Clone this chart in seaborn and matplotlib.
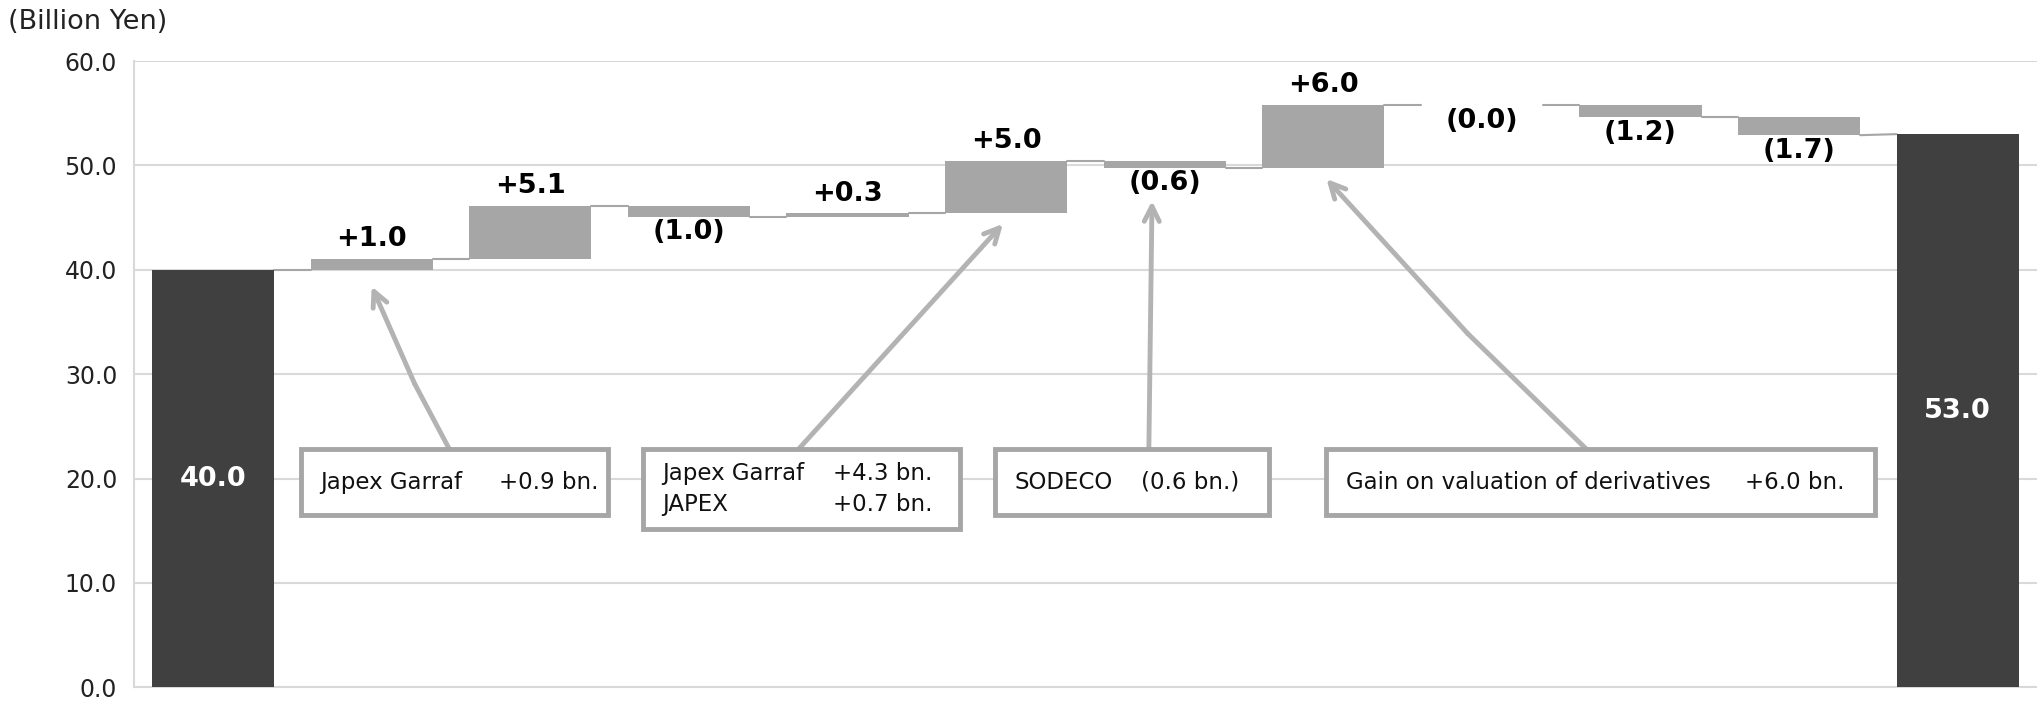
import matplotlib
matplotlib.use("Agg")
import matplotlib.pyplot as plt
import numpy as np
import seaborn as sns
from matplotlib.patches import Rectangle

# -----------------------------
# Data (Billion Yen)
# -----------------------------
steps = ["Start", "Step 1", "Step 2", "Step 3", "Step 4", "Step 5",
         "Step 6", "Step 7", "Step 8", "Step 9", "Step 10", "End"]
values = [40.0, 1.0, 5.1, -1.0, 0.3, 5.0, -0.6, 6.0, -0.0, -1.2, -1.7, 53.0]
is_total = [True] + [False] * 10 + [True]
value_labels = ["40.0", "+1.0", "+5.1", "(1.0)", "+0.3", "+5.0", "(0.6)",
                "+6.0", "(0.0)", "(1.2)", "(1.7)", "53.0"]
y_ticks = [0, 10, 20, 30, 40, 50, 60]

note_left = ["Japex Garraf", "Japex Garraf\nJAPEX", "SODECO",
             "Gain on valuation of derivatives"]
note_right = ["+0.9 bn.", "+4.3 bn.\n+0.7 bn.", "(0.6 bn.)", "+6.0 bn."]

DARK = "#404040"
GREY = "#a6a6a6"
LINE = "#b3b3b3"
GRID = "#d9d9d9"

# -----------------------------
# Waterfall geometry
# -----------------------------
bottoms, heights, ends = [], [], []
running = 0.0
for v, tot in zip(values, is_total):
    if tot:
        bottoms.append(0.0)
        heights.append(v)
        running = v
    else:
        bottoms.append(min(running, running + v))
        heights.append(abs(v))
        running = running + v
    ends.append(running)
bottoms = np.array(bottoms)
heights = np.array(heights)

sns.set_theme(style="white")
plt.rcParams["font.family"] = ["DejaVu Sans"]

fig = plt.figure(figsize=(20.37, 7.02), dpi=100)
ax = fig.add_axes([0.0657, 0.021, 0.9343, 0.892])

bw = 0.77
sns.barplot(x=steps, y=heights, bottom=bottoms, color=GREY, width=bw,
            saturation=1, linewidth=0, ax=ax, zorder=3)
for patch, tot in zip(ax.patches, is_total):
    patch.set_facecolor(DARK if tot else GREY)
    patch.set_edgecolor(DARK if tot else GREY)

# connectors
for i in range(len(values) - 1):
    nxt = values[i + 1] if is_total[i + 1] else ends[i]
    ax.plot([i + bw / 2, i + 1 - bw / 2], [ends[i], nxt],
            color=GREY, lw=1.5, zorder=2)

# value labels
for i, (v, tot, lab) in enumerate(zip(values, is_total, value_labels)):
    if tot:
        ax.text(i, v / 2, lab, ha="center", va="center", color="white",
                fontsize=19.5, fontweight="bold", zorder=5)
    elif lab.startswith("+"):
        ax.annotate(lab, (i, bottoms[i] + heights[i]), xytext=(0, 5),
                    textcoords="offset points", ha="center", va="bottom",
                    fontsize=19.5, fontweight="bold", color="black", zorder=5)
    else:
        ax.annotate(lab, (i, bottoms[i]), xytext=(0, -2),
                    textcoords="offset points", ha="center", va="top",
                    fontsize=19.5, fontweight="bold", color="black", zorder=5)

# -----------------------------
# Notes with arrows
# -----------------------------
boxes = [(0.557, 2.49, 16.5), (2.71, 4.71, 15.2), (4.93, 6.66, 16.5),
         (7.02, 10.48, 16.5)]
right_x = [1.80, 3.91, 5.85, 9.66]
box_top = 22.8
arrow_from = [(1.49, box_top), (3.69, box_top), (5.90, box_top), (8.66, box_top)]
arrow_bend = [(1.27, 29.1), None, None, (7.91, 33.9)]
arrow_tip = [(1.0, 38.4), (4.98, 44.4), (5.92, 46.6), (7.02, 48.7)]

for k in range(len(note_left)):
    x0, x1, y0 = boxes[k]
    ax.add_patch(Rectangle((x0, y0), x1 - x0, box_top - y0, facecolor="white",
                           edgecolor=GREY, lw=3.5, zorder=6))
    yc = (y0 + box_top) / 2
    ax.text(x0 + 0.12, yc, note_left[k], ha="left", va="center",
            fontsize=16.5, linespacing=1.45, color="#111111", zorder=7)
    ax.text(right_x[k], yc, note_right[k], ha="left", va="center",
            fontsize=16.5, linespacing=1.45, color="#111111", zorder=7)

    start = arrow_from[k]
    if arrow_bend[k] is not None:
        ax.plot([start[0], arrow_bend[k][0]], [start[1], arrow_bend[k][1]],
                color=LINE, lw=3.5, solid_capstyle="round", zorder=4)
        start = arrow_bend[k]
    ax.annotate("", xy=arrow_tip[k], xytext=start,
                arrowprops=dict(arrowstyle="->,head_length=0.9,head_width=0.45",
                                color=LINE, lw=3.5, shrinkA=0, shrinkB=0),
                zorder=4)

# -----------------------------
# Axes styling
# -----------------------------
ax.set_xlim(-0.5, 11.5)
ax.set_ylim(0, 60)
ax.set_yticks(y_ticks)
ax.set_yticklabels([f"{t:.1f}" for t in y_ticks], fontsize=17,
                   color="#222222")
ax.set_xticks([])
ax.set_xlabel("")
ax.set_ylabel("")
ax.yaxis.grid(True, color=GRID, lw=1.5, zorder=0)
ax.set_axisbelow(True)
ax.tick_params(axis="y", length=0, pad=12)
sns.despine(ax=ax, top=True, right=True)
for side in ["left", "bottom"]:
    ax.spines[side].set_color(GRID)
    ax.spines[side].set_linewidth(1.5)

fig.text(0.004, 0.968, "(Billion Yen)", ha="left", va="center", fontsize=19.5,
         color="#222222")

fig.savefig("out.png", dpi=100)
plt.close(fig)
